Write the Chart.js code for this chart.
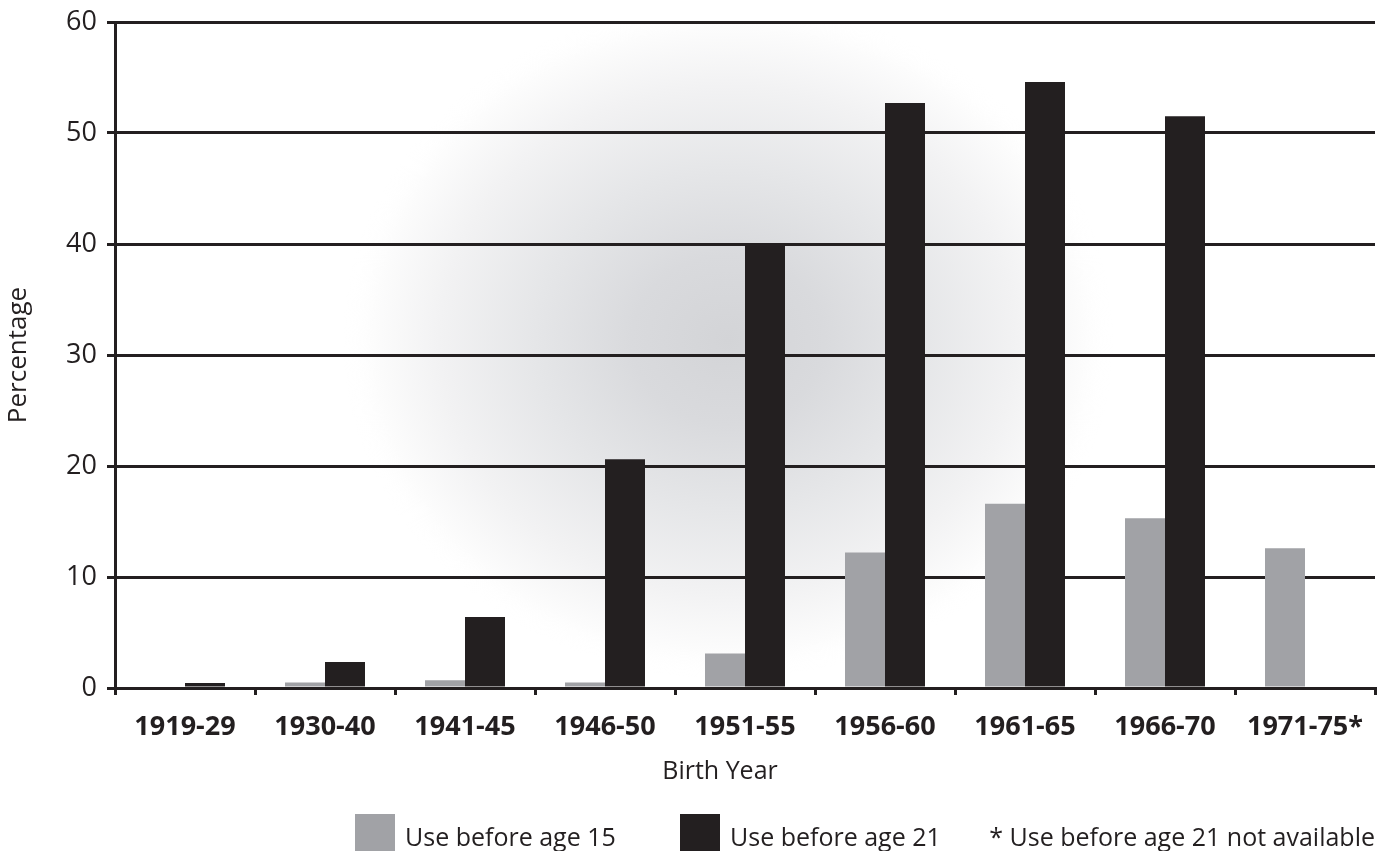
<!DOCTYPE html>
<html>
<head>
<meta charset="utf-8">
<script src="https://cdn.jsdelivr.net/npm/chart.js@4/dist/chart.umd.min.js"></script>
<style>
  html, body { margin: 0; padding: 0; background: #ffffff; }
  #wrap { width: 1391px; height: 851px; position: relative; }
</style>
</head>
<body>
<div id="wrap"><canvas id="chart"></canvas></div>
<script>
// Birth-year cohorts and the share who had used before a given age
const birthYears = ['1919-29', '1930-40', '1941-45', '1946-50', '1951-55', '1956-60', '1961-65', '1966-70', '1971-75*'];
const beforeAge15 = [0, 0.5, 0.7, 0.5, 3.1, 12.2, 16.6, 15.3, 12.6];
const beforeAge21 = [0.45, 2.35, 6.4, 20.6, 40.1, 52.7, 54.6, 51.5, null];
const percentTicks = [0, 10, 20, 30, 40, 50, 60];
const xAxisTitle = 'Birth Year';
const footnote = '* Use before age 21 not available';

const INK = '#231f20';
const GREY = '#a1a2a6';
const FONT = "'Open Sans', 'Noto Sans', sans-serif";

// Soft elliptical shading painted first, so grid and bars sit on top of it
const haze = {
  id: 'haze',
  beforeDraw(chart) {
    const { ctx, chartArea: a } = chart;
    const cx = 728, cy = 340, sy = 0.88;
    ctx.save();
    ctx.beginPath();
    ctx.rect(a.left, a.top, a.right - a.left, a.bottom - a.top);
    ctx.clip();
    ctx.translate(cx, cy);
    ctx.scale(1, sy);
    const g = ctx.createRadialGradient(0, 0, 0, 0, 0, 385);
    g.addColorStop(0, '#d3d4d7');
    g.addColorStop(0.25, '#d9dadd');
    g.addColorStop(0.5, '#e5e6e8');
    g.addColorStop(0.75, '#f2f2f3');
    g.addColorStop(0.92, '#fcfcfc');
    g.addColorStop(1, 'rgba(255,255,255,0)');
    ctx.fillStyle = g;
    ctx.fillRect(-400, -460, 800, 920);
    ctx.restore();
  }
};

// Axis caption and key row under the axis: swatches, labels and the footnote
const keyRow = {
  id: 'keyRow',
  afterDraw(chart) {
    const { ctx, chartArea: a } = chart;
    ctx.save();
    ctx.fillStyle = INK;
    ctx.font = `25px ${FONT}`;
    ctx.textAlign = 'center';
    ctx.textBaseline = 'middle';
    ctx.fillText(xAxisTitle, 720, 772);

    const items = chart.data.datasets.map((ds, i) => ({ color: ds.backgroundColor, text: ds.label, x: i === 0 ? 355 : 680 }));
    ctx.font = `25px ${FONT}`;
    ctx.textAlign = 'left';
    ctx.textBaseline = 'alphabetic';
    items.forEach(it => {
      ctx.fillStyle = it.color;
      ctx.fillRect(it.x, 814, 40, 40);
      ctx.fillStyle = INK;
      ctx.fillText(it.text, it.x + 50, 846);
    });
    ctx.textAlign = 'right';
    ctx.fillText(footnote, a.right, 846);
    ctx.restore();
  }
};

new Chart(document.getElementById('chart'), {
  type: 'bar',
  data: {
    labels: birthYears,
    datasets: [
      { label: 'Use before age 15', data: beforeAge15, backgroundColor: GREY },
      { label: 'Use before age 21', data: beforeAge21, backgroundColor: INK }
    ]
  },
  plugins: [haze, keyRow],
  options: {
    responsive: true,
    maintainAspectRatio: false,
    animation: false,
    layout: { padding: { top: 22, right: 16, bottom: 60, left: 0 } },
    datasets: { bar: { categoryPercentage: 0.5714, barPercentage: 1.0, borderWidth: 0 } },
    plugins: { legend: { display: false }, tooltip: { enabled: false } },
    scales: {
      x: {
        afterFit(axis) { axis.height = 851 - 688 - 60; },
        grid: { drawOnChartArea: false, drawTicks: true, tickLength: 7, color: INK, lineWidth: 3, offset: true },
        border: { display: true, color: INK, width: 3 },
        ticks: { color: INK, font: { family: FONT, size: 27, weight: 'bold' }, padding: 16, maxRotation: 0 },
        title: { display: false }
      },
      y: {
        min: 0, max: 60,
        afterFit(axis) { axis.width = 115; axis.paddingTop = 0; axis.paddingBottom = 0; },
        afterBuildTicks(axis) { axis.ticks = percentTicks.map(v => ({ value: v })); },
        grid: { color: INK, lineWidth: 3, tickLength: 8, drawTicks: true },
        border: { display: true, color: INK, width: 3 },
        ticks: { color: INK, font: { family: FONT, size: 27 }, padding: 10 },
        title: { display: true, text: 'Percentage', color: INK, font: { family: FONT, size: 26 }, padding: { top: 3, bottom: 0 } }
      }
    }
  }
});
</script>
</body>
</html>
